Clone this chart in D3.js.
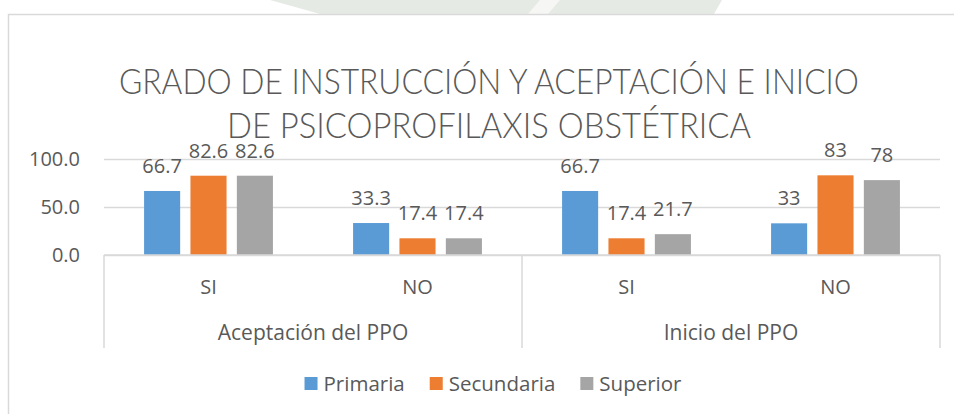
<!DOCTYPE html>
<html>
<head>
<meta charset="utf-8">
<script src="https://cdn.jsdelivr.net/npm/d3@7"></script>
<style>
  body { margin: 0; background: #fff; }
  svg text { font-family: "Open Sans", "Noto Sans", sans-serif; fill: #595959; }
</style>
</head>
<body>
<div id="chart"></div>
<script>
// data
var groups = ["Aceptación del PPO", "Inicio del PPO"];
var answers = ["SI", "NO"];
var seriesNames = ["Primaria", "Secundaria", "Superior"];
var primaria = [66.7, 33.3, 66.7, 33];
var secundaria = [82.6, 17.4, 17.4, 83];
var superior = [82.6, 17.4, 21.7, 78];
var yTicks = [0, 50, 100];
var titleLines = ["GRADO DE INSTRUCCIÓN Y ACEPTACIÓN E INICIO", "DE PSICOPROFILAXIS OBSTÉTRICA"];

var colors = ["#5B9BD5", "#ED7D31", "#A5A5A5"];
var allSeries = [primaria, secundaria, superior];

var width = 954, height = 414;
var plotLeft = 104, plotRight = 940, plotTop = 159, plotBase = 255;

var svg = d3.select("#chart").append("svg")
    .attr("width", width)
    .attr("height", height);

// faint watermark behind the chart (from the scanned page)
svg.append("path")
    .attr("d", "M270,0 L722,0 L714,14 L320,14 Z")
    .attr("fill", "#e6eae4");
svg.append("path")
    .attr("d", "M540,0 L560,0 L548,14 L528,14 Z")
    .attr("fill", "#f6f7f5");

// chart area border
svg.append("rect")
    .attr("x", 8.5).attr("y", 14.5)
    .attr("width", 980).attr("height", 420)
    .attr("fill", "#fff")
    .attr("stroke", "#d9d9d9")
    .attr("stroke-width", 1.5);

// title
svg.selectAll(".title")
    .data(titleLines)
    .enter().append("text")
    .attr("class", "title")
    .attr("x", 489)
    .attr("y", function (d, i) { return 94 + i * 44; })
    .attr("text-anchor", "middle")
    .style("font-family", "Lato, 'Open Sans', sans-serif")
    .style("font-weight", 300)
    .style("font-size", "35px")
    .attr("textLength", function (d, i) { return i === 0 ? 740 : 524; })
    .attr("lengthAdjust", "spacingAndGlyphs")
    .text(function (d) { return d; });

var cats = [];
groups.forEach(function (g) {
    answers.forEach(function (a) { cats.push(g + "|" + a); });
});

var x = d3.scaleBand().domain(cats).range([plotLeft, plotRight]);
var xs = d3.scaleBand().domain(seriesNames).range([0, x.bandwidth()])
    .paddingInner(0.222).paddingOuter(0.864);
var y = d3.scaleLinear().domain([0, 100]).range([plotBase, plotTop]);

// gridlines + y tick labels
var yAxis = d3.axisLeft(y).tickValues(yTicks).tickSize(-(plotRight - plotLeft))
    .tickFormat(function (d) { return d.toFixed(1); });
var ga = svg.append("g")
    .attr("transform", "translate(" + plotLeft + ",0)")
    .call(yAxis);
ga.select(".domain").remove();
ga.selectAll(".tick line").attr("stroke", "#d9d9d9").attr("stroke-width", 1.5);
ga.selectAll(".tick text")
    .attr("x", -24)
    .style("font-size", "20px")
    .style("font-family", "'Open Sans', sans-serif")
    .attr("fill", "#595959");

// bars
seriesNames.forEach(function (s, si) {
    var vals = allSeries[si];
    var g = svg.append("g");
    g.selectAll("rect")
        .data(vals)
        .enter().append("rect")
        .attr("x", function (d, i) { return x(cats[i]) + xs(s); })
        .attr("width", xs.bandwidth())
        .attr("y", function (d) { return y(d); })
        .attr("height", function (d) { return plotBase - y(d); })
        .attr("fill", colors[si]);
    g.selectAll("text")
        .data(vals)
        .enter().append("text")
        .attr("x", function (d, i) { return x(cats[i]) + xs(s) + xs.bandwidth() / 2; })
        .attr("y", function (d) { return y(d) - 18; })
        .attr("text-anchor", "middle")
        .style("font-size", "20px")
        .text(function (d) { return String(d); });
});

// category axis
svg.append("line")
    .attr("x1", plotLeft).attr("x2", plotRight)
    .attr("y1", plotBase).attr("y2", plotBase)
    .attr("stroke", "#d9d9d9").attr("stroke-width", 1.5);

var dividers = [plotLeft, x(cats[2]), plotRight];
svg.selectAll(".divider")
    .data(dividers)
    .enter().append("line")
    .attr("x1", function (d) { return d; })
    .attr("x2", function (d) { return d; })
    .attr("y1", plotBase).attr("y2", 348)
    .attr("stroke", "#d9d9d9").attr("stroke-width", 1.5);

svg.selectAll(".cat")
    .data(cats)
    .enter().append("text")
    .attr("x", function (d) { return x(d) + x.bandwidth() / 2; })
    .attr("y", 294)
    .attr("text-anchor", "middle")
    .style("font-size", "20px")
    .text(function (d) { return d.split("|")[1]; });

svg.selectAll(".group")
    .data(groups)
    .enter().append("text")
    .attr("x", function (d, i) { return x(cats[i * 2]) + x.bandwidth(); })
    .attr("y", 340)
    .attr("text-anchor", "middle")
    .style("font-size", "21px")
    .text(function (d) { return d; });

// legend
var legend = svg.append("g");
var lx = 0;
seriesNames.forEach(function (s, i) {
    var item = legend.append("g").attr("transform", "translate(" + lx + ",0)");
    item.append("rect")
        .attr("x", 0).attr("y", 377)
        .attr("width", 13).attr("height", 13)
        .attr("fill", colors[i]);
    var t = item.append("text")
        .attr("x", 19).attr("y", 391)
        .style("font-size", "20.5px")
        .text(s);
    lx += 19 + t.node().getComputedTextLength() + 25;
});
var lw = lx - 25;
legend.attr("transform", "translate(" + (493 - lw / 2) + ",0)");
</script>
</body>
</html>
